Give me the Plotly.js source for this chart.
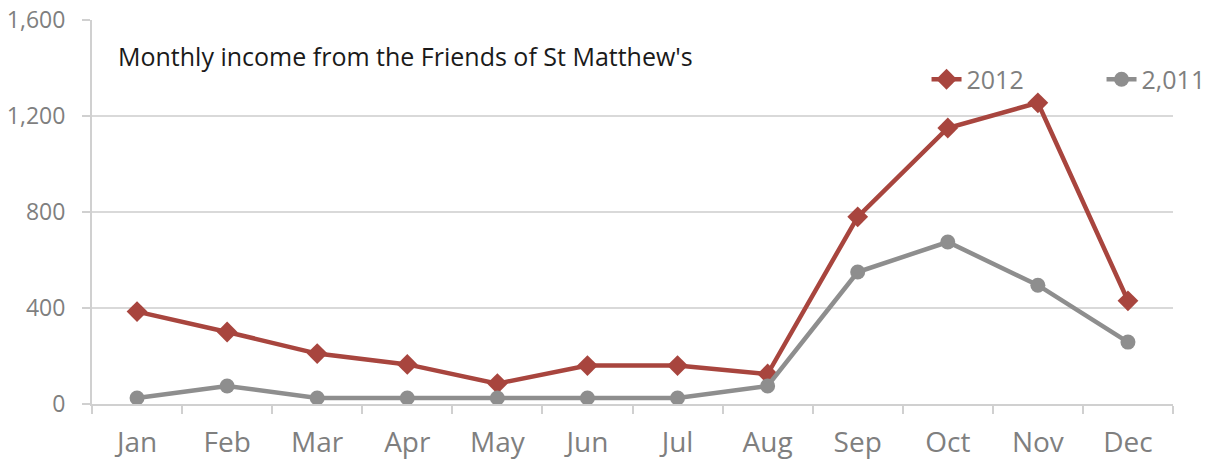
<!DOCTYPE html>
<html>
<head>
<meta charset="utf-8">
<script src="https://cdn.plot.ly/plotly-3.0.1.min.js"></script>
<style>html,body{margin:0;padding:0;background:#fff;}#chart{width:1205px;height:462px;}</style>
</head>
<body>
<div id="chart"></div>
<script>
var months = ["Jan","Feb","Mar","Apr","May","Jun","Jul","Aug","Sep","Oct","Nov","Dec"];
var income2012 = [385, 300, 210, 165, 85, 160, 160, 125, 780, 1150, 1255, 430];
var income2011 = [25, 75, 25, 25, 25, 25, 25, 75, 550, 675, 495, 258];
var seriesNames = ["2012", "2,011"];
var chartTitle = "Monthly income from the Friends of St Matthew's";

var fontFam = "'Open Sans', Lato, sans-serif";
var traces = [
  {x: months, y: income2012, name: seriesNames[0], type: "scatter", mode: "lines+markers",
   line: {color: "#A8453E", width: 4.5}, marker: {symbol: "diamond", size: 16, color: "#A8453E"}},
  {x: months, y: income2011, name: seriesNames[1], type: "scatter", mode: "lines+markers",
   line: {color: "#8E8E8E", width: 4.5}, marker: {symbol: "circle", size: 15, color: "#8E8E8E"}}
];
var layout = {
  width: 1205, height: 462,
  margin: {l: 92, r: 32, t: 20, b: 58, autoexpand: false},
  paper_bgcolor: "#fff", plot_bgcolor: "#fff",
  font: {family: fontFam, color: "#7f7f7f", size: 22},
  showlegend: true,
  legend: {orientation: "h", x: 0.772, y: 0.845, xanchor: "left", yanchor: "middle",
           font: {size: 25, color: "#7f7f7f"}, bgcolor: "rgba(0,0,0,0)",
           entrywidth: 130, traceorder: "normal"},
  xaxis: {type: "category", range: [-0.5, 11.5], showgrid: false, showline: true, linecolor: "#d0d0d0", linewidth: 2,
          ticks: "outside", tickson: "boundaries", ticklen: 8, tickcolor: "#d0d0d0", tickwidth: 2,
          ticklabelstandoff: 12, automargin: false,
          tickfont: {size: 28, color: "#7f7f7f"}, zeroline: false, fixedrange: true},
  yaxis: {range: [0, 1600], dtick: 400, tickformat: ",d", showgrid: true, gridcolor: "#d9d9d9", gridwidth: 2,
          showline: true, linecolor: "#d0d0d0", linewidth: 2, ticks: "outside", ticklen: 8,
          tickcolor: "#d0d0d0", tickwidth: 2, zeroline: false, automargin: false,
          ticklabelstandoff: 12,
          tickfont: {size: 23, color: "#7f7f7f"}, fixedrange: true},
  annotations: [{text: chartTitle, xref: "paper", yref: "paper", x: 0.022, y: 0.905,
                 xanchor: "left", yanchor: "middle", showarrow: false,
                 font: {size: 25, color: "#1a1a1a", family: fontFam}}]
};
Plotly.newPlot("chart", traces, layout, {displayModeBar: false, staticPlot: true});
</script>
</body>
</html>
